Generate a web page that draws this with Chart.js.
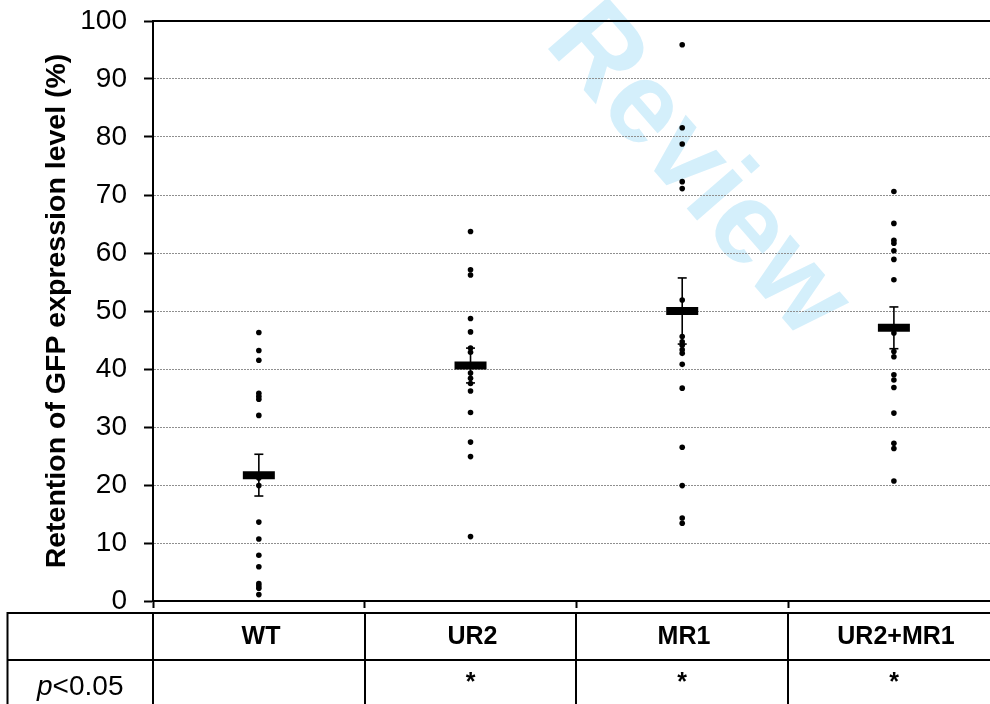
<!DOCTYPE html>
<html>
<head>
<meta charset="utf-8">
<script src="https://cdn.jsdelivr.net/npm/chart.js@4/dist/chart.umd.min.js"></script>
<style>
  html, body { margin: 0; padding: 0; background: #ffffff; }
  #wrap { width: 990px; height: 704px; position: relative; }
</style>
</head>
<body>
<div id="wrap"><canvas id="c" width="990" height="704"></canvas></div>
<script>
// ---- data ----
const categories = ['WT', 'UR2', 'MR1', 'UR2+MR1'];
const wtValues = [46.3, 43.2, 41.5, 35.8, 35.3, 34.8, 32.0, 21.2, 19.9, 13.6, 10.7, 7.9, 5.9, 3.0, 2.6, 2.2, 1.1];
const ur2Values = [63.7, 57.1, 56.2, 48.7, 46.4, 43.6, 42.9, 39.3, 38.4, 37.5, 36.2, 32.5, 27.4, 24.9, 11.1];
const mr1Values = [95.9, 81.6, 78.8, 72.3, 71.1, 51.9, 45.6, 44.7, 44.1, 43.3, 42.7, 40.8, 36.7, 26.5, 19.9, 14.3, 13.4];
const comboValues = [70.6, 65.1, 62.2, 61.7, 60.4, 58.9, 55.4, 46.2, 43.0, 42.1, 39.0, 38.1, 36.8, 32.4, 27.2, 26.3, 20.7];
const meanValues = [21.7, 40.6, 50.0, 47.1];
const errorValues = [3.6, 3.0, 5.7, 3.6];
const yTickValues = [0, 10, 20, 30, 40, 50, 60, 70, 80, 90, 100];
const significance = ['', '*', '*', '*'];
const rowLabelItalic = 'p';
const rowLabelRest = '<0.05';
const yTitle = 'Retention of GFP expression level (%)';
const watermark = 'Review';
const xMin = -0.5;
const xMax = 3.454;

const groups = [wtValues, ur2Values, mr1Values, comboValues];
const pointData = [];
groups.forEach((vals, i) => vals.forEach(v => pointData.push({ x: i, y: v })));
const meanData = meanValues.map((m, i) => ({ x: i, y: m }));
const errData = [];
meanValues.forEach((m, i) => {
  errData.push({ x: i, y: m - errorValues[i] });
  errData.push({ x: i, y: m + errorValues[i] });
  errData.push({ x: i, y: null });
});

const FONT = '"Liberation Sans", Arial, Helvetica, sans-serif';

const watermarkPlugin = {
  id: 'watermark',
  beforeDraw(chart) {
    const ctx = chart.ctx;
    ctx.save();
    ctx.translate(697, 172);
    ctx.rotate(49 * Math.PI / 180);
    ctx.font = 'bold 115px ' + FONT;
    ctx.fillStyle = '#d4effb';
    ctx.textAlign = 'center';
    ctx.textBaseline = 'middle';
    ctx.fillText(watermark, 0, 0);
    ctx.restore();
  }
};

const tablePlugin = {
  id: 'table',
  afterDraw(chart) {
    const ctx = chart.ctx;
    const xs = chart.scales.x;
    const left = 7.5, top = 613, mid = 660, bottom = 705, right = 1000;
    const bounds = [];
    for (let i = 0; i <= categories.length; i++) bounds.push(Math.round(xs.getPixelForValue(i - 0.5)));
    ctx.save();
    ctx.strokeStyle = '#000';
    ctx.lineWidth = 2;
    ctx.beginPath();
    ctx.moveTo(left, top); ctx.lineTo(right, top);
    ctx.moveTo(left, mid); ctx.lineTo(right, mid);
    ctx.moveTo(left, top - 1); ctx.lineTo(left, bottom);
    bounds.forEach(b => { ctx.moveTo(b, top - 1); ctx.lineTo(b, bottom); });
    ctx.stroke();

    ctx.fillStyle = '#000';
    ctx.textAlign = 'center';
    ctx.textBaseline = 'middle';
    ctx.font = 'bold 25px ' + FONT;
    categories.forEach((c, i) => {
      ctx.fillText(c, (bounds[i] + bounds[i + 1]) / 2 + 2, 637);
    });
    ctx.textBaseline = 'alphabetic';
    significance.forEach((s, i) => {
      if (s) ctx.fillText(s, (bounds[i] + bounds[i + 1]) / 2, 690);
    });
    // row label with italic p
    ctx.font = 'italic 28px ' + FONT;
    const w1 = ctx.measureText(rowLabelItalic).width;
    ctx.font = '28px ' + FONT;
    const w2 = ctx.measureText(rowLabelRest).width;
    const cx = (left + bounds[0]) / 2;
    const startX = cx - (w1 + w2) / 2;
    ctx.textAlign = 'left';
    ctx.font = 'italic 28px ' + FONT;
    ctx.fillText(rowLabelItalic, startX, 695);
    ctx.font = '28px ' + FONT;
    ctx.fillText(rowLabelRest, startX + w1, 695);
    ctx.restore();
  }
};

new Chart(document.getElementById('c'), {
  type: 'scatter',
  data: {
    datasets: [
      {
        label: 'values',
        data: pointData,
        backgroundColor: '#000',
        borderColor: '#000',
        borderWidth: 0,
        pointRadius: 2.8,
        pointHoverRadius: 2.8,
        order: 1
      },
      {
        label: 'mean',
        data: meanData,
        pointStyle: 'line',
        pointRadius: 16,
        pointHoverRadius: 16,
        borderColor: '#000',
        backgroundColor: '#000',
        borderWidth: 8,
        pointBorderWidth: 8,
        order: 2
      },
      {
        label: 'error',
        type: 'line',
        data: errData,
        showLine: true,
        spanGaps: false,
        borderColor: '#000',
        backgroundColor: '#000',
        borderWidth: 1.6,
        pointStyle: 'line',
        pointRadius: 4.5,
        pointHoverRadius: 4.5,
        pointBorderWidth: 1.6,
        fill: false,
        order: 3
      }
    ]
  },
  options: {
    responsive: false,
    animation: false,
    devicePixelRatio: 1,
    layout: { autoPadding: false, padding: { left: 0, right: 0, top: 21, bottom: 96 } },
    plugins: { legend: { display: false }, tooltip: { enabled: false } },
    scales: {
      x: {
        type: 'linear',
        position: 'bottom',
        min: xMin,
        max: xMax,
        afterBuildTicks(scale) {
          scale.ticks = categories.map((c, i) => ({ value: i - 0.5 }));
        },
        afterFit(scale) {
          scale.height = 7;
          scale.paddingLeft = 0; scale.paddingRight = 0;
        },
        ticks: { display: false },
        grid: {
          drawOnChartArea: false,
          drawTicks: true,
          tickLength: 7,
          tickColor: '#000',
          tickWidth: 2
        },
        border: { display: true, color: '#000', width: 2 }
      },
      x2: {
        type: 'linear',
        position: 'top',
        min: xMin,
        max: xMax,
        ticks: { display: false },
        grid: { display: false, drawTicks: false },
        afterFit(scale) {
          scale.height = 0;
          scale.paddingLeft = 0; scale.paddingRight = 0;
        },
        border: { display: true, color: '#000', width: 2 }
      },
      y: {
        type: 'linear',
        min: 0,
        max: 100,
        afterBuildTicks(scale) {
          scale.ticks = yTickValues.map(v => ({ value: v }));
        },
        afterFit(scale) {
          scale.width = 153;
          scale.paddingTop = 0; scale.paddingBottom = 0;
        },
        ticks: {
          color: '#000',
          font: { family: FONT, size: 28 },
          padding: 17
        },
        grid: {
          color: '#8f8f8f',
          lineWidth: 1,
          drawTicks: true,
          tickLength: 9,
          tickColor: '#000',
          tickWidth: 2
        },
        border: { display: true, color: '#000', width: 2, dash: [2, 1] },
        title: {
          display: true,
          text: yTitle,
          color: '#000',
          font: { family: FONT, size: 28.5, weight: 'bold' },
          padding: { top: 40, bottom: 0 }
        }
      }
    }
  },
  plugins: [watermarkPlugin, tablePlugin]
});
</script>
</body>
</html>
